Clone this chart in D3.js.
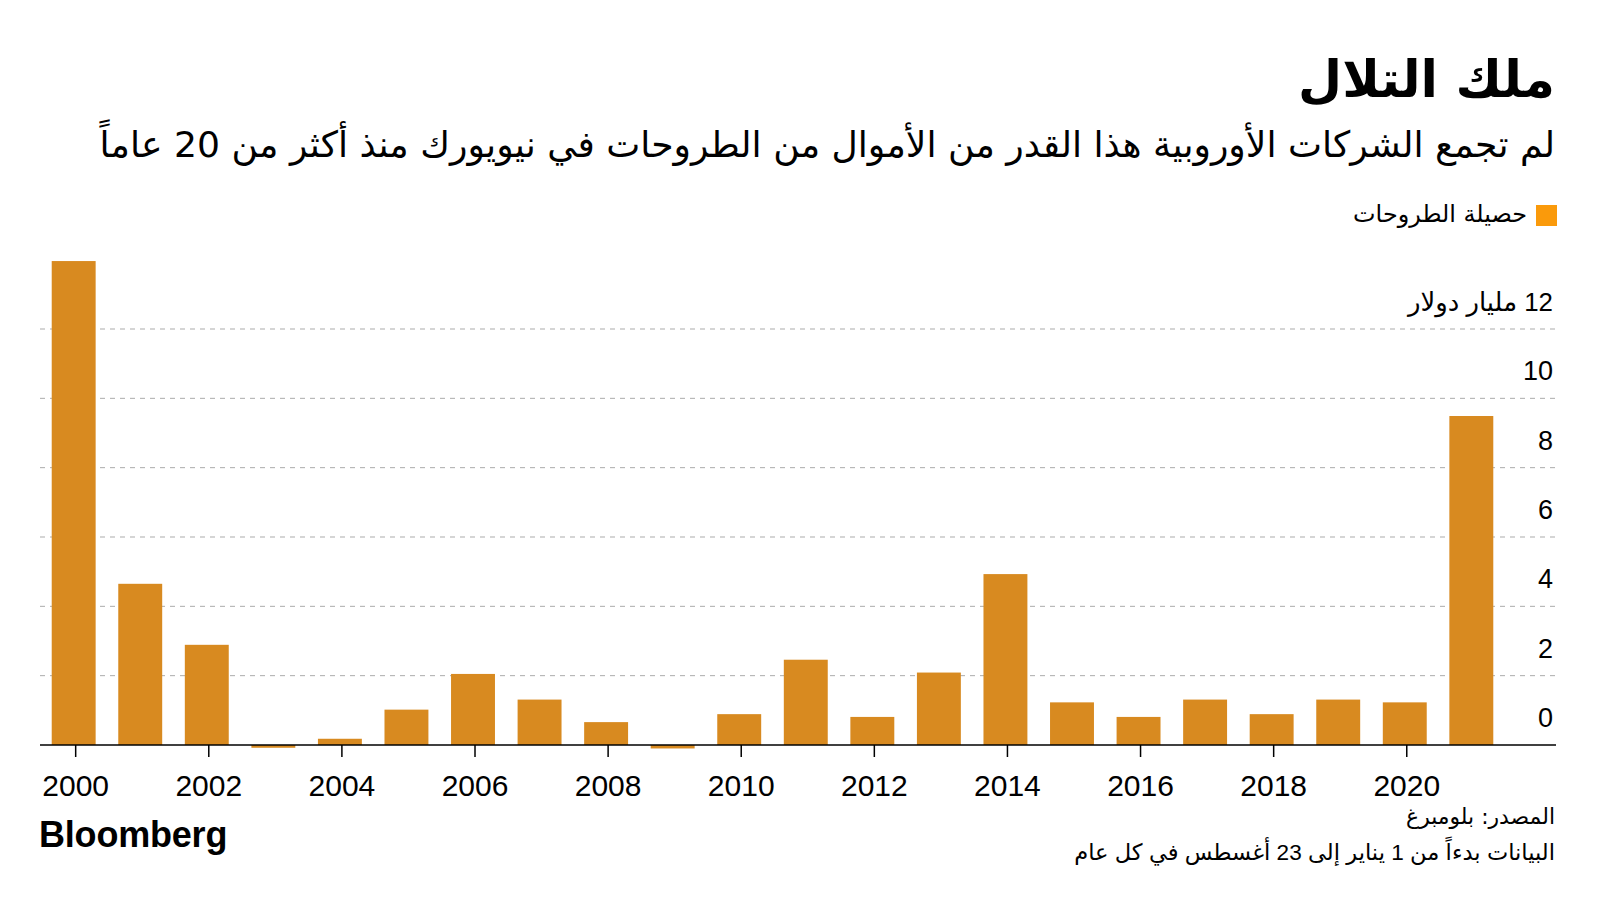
<!DOCTYPE html>
<html><head><meta charset="utf-8">
<script src="https://cdn.jsdelivr.net/npm/d3@7"></script>
<style>body{margin:0;background:#fff;} svg{display:block}</style>
</head><body><svg id="c" width="1600" height="900"></svg>
<script>
const years = [2000,2001,2002,2003,2004,2005,2006,2007,2008,2009,2010,2011,2012,2013,2014,2015,2016,2017,2018,2019,2020,2021];
const proceeds = [13.96,4.65,2.89,-0.08,0.18,1.02,2.05,1.31,0.66,-0.10,0.89,2.46,0.81,2.09,4.93,1.23,0.81,1.31,0.89,1.31,1.23,9.49];
const yTicks = [0,2,4,6,8,10,12];
const yTickLabels = ["0","2","4","6","8","10","12 مليار دولار"];
const xTickYears = [2000,2002,2004,2006,2008,2010,2012,2014,2016,2018,2020];
const titleText = "ملك التلال";
const subtitleText = "لم تجمع الشركات الأوروبية هذا القدر من الأموال من الطروحات في نيويورك منذ أكثر من 20 عاماً";
const legendText = "حصيلة الطروحات";
const sourceText = "المصدر: بلومبرغ";
const noteText = "البيانات بدءاً من 1 يناير إلى 23 أغسطس في كل عام";
const logoText = "Bloomberg";

const svg = d3.select("#c");
const AR = "'DejaVu Sans', sans-serif";
const NUM = "'Liberation Sans', 'DejaVu Sans', sans-serif";
const RIGHT = 1555;

const x = d3.scaleBand().domain(years).range([40, 1505]).paddingInner(0.34).paddingOuter(0.176);
const y = d3.scaleLinear().domain([0, 12]).range([745, 329]);

function fit(sel, w) {
  const n = sel.node();
  const cur = parseFloat(sel.attr("font-size"));
  const L = n.getComputedTextLength();
  if (L > 0) sel.attr("font-size", cur * w / L);
}
function rtlText(txt, xr, yb, size, weight, family, w) {
  const t = svg.append("text").attr("x", xr).attr("y", yb)
    .attr("direction", "rtl").style("direction", "rtl").attr("text-anchor", "start")
    .attr("font-family", family).attr("font-size", size).attr("font-weight", weight)
    .attr("fill", "#000").text(txt);
  if (w) fit(t, w);
  return t;
}

// gridlines
svg.append("g").selectAll("line").data(yTicks.filter(d => d > 0)).join("line")
  .attr("x1", 40).attr("x2", 1556)
  .attr("y1", d => y(d)).attr("y2", d => y(d))
  .attr("stroke", "#ababab").attr("stroke-width", 1).attr("stroke-dasharray", "5,5");

// bars
svg.append("g").selectAll("rect").data(years).join("rect")
  .attr("x", d => x(d))
  .attr("width", x.bandwidth())
  .attr("y", (d, i) => y(Math.max(0, proceeds[i])))
  .attr("height", (d, i) => Math.abs(y(proceeds[i]) - y(0)))
  .attr("fill", "#d88a20");

// baseline
svg.append("line").attr("x1", 40).attr("x2", 1556).attr("y1", y(0)).attr("y2", y(0))
  .attr("stroke", "#000").attr("stroke-width", 1.5);

// x axis
const xa = svg.append("g").attr("transform", `translate(${2},${y(0)})`)
  .call(d3.axisBottom(x).tickValues(xTickYears).tickSize(12).tickSizeOuter(0));
xa.select(".domain").remove();
xa.selectAll(".tick line").attr("stroke", "#000").attr("stroke-width", 1.5);
xa.selectAll(".tick text").attr("y", 51).attr("dy", 0)
  .attr("font-family", NUM).attr("font-size", 30).attr("fill", "#000");

// y labels
yTicks.forEach((v, i) => {
  const t = rtlText(yTickLabels[i], 1553, y(v) - 18, 27, 400, NUM);
  if (i === yTicks.length - 1) fit(t, 145);
});

// title & subtitle
rtlText(titleText, RIGHT, 97, 56, 700, AR, 257);
rtlText(subtitleText, RIGHT, 157, 30, 400, AR, 1456);

// legend
svg.append("rect").attr("x", 1536).attr("y", 205).attr("width", 21).attr("height", 21).attr("fill", "#fa9a0b");
rtlText(legendText, 1527, 222, 22, 400, AR, 174);

// footer
rtlText(sourceText, RIGHT, 824, 22, 400, AR, 149);
rtlText(noteText, RIGHT, 860, 22, 400, NUM, 481);
svg.append("text").attr("x", 39).attr("y", 847)
  .attr("font-family", "'Liberation Sans', Arial, sans-serif").attr("font-weight", 700)
  .attr("font-size", 36).attr("letter-spacing", -0.2).attr("fill", "#000").text(logoText);
</script></body></html>
